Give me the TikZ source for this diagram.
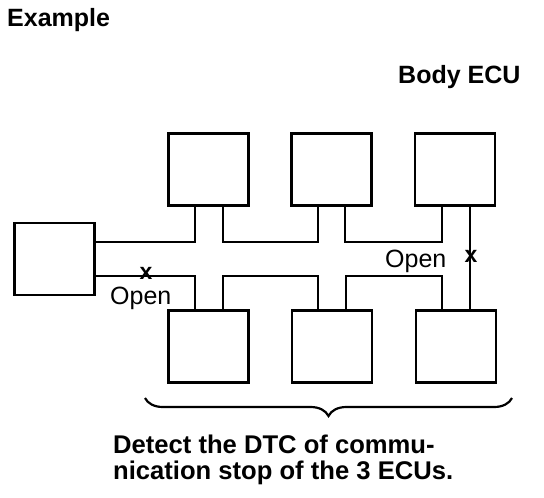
\documentclass[tikz,border=0pt]{standalone}
\usepackage{fontspec}
\setmainfont{Liberation Sans}
\usetikzlibrary{decorations.pathreplacing}

\tikzset{
  ecu/.style = {draw, line width = 2.5pt, minimum width = 80pt, minimum height = 72pt, inner sep = 0pt},
  wire/.style = {line width = 2.2pt},
  label/.style = {inner sep = 0pt, font = \fontsize{25}{27}\selectfont\bfseries},
  open/.style = {inner sep = 0pt, font = \fontsize{25}{27}\selectfont},
  cut/.style = {inner sep = 0pt, font = \fontsize{23}{23}\selectfont\bfseries}
}

\begin{document}
\begin{tikzpicture}[x = 1pt, y = -1pt]
        \useasboundingbox (0,0) rectangle (544,498);
        \node[ecu] (gw) at (54.5,259) {};
        \node[ecu] (top1) at (208.5,169.5) {};
        \node[ecu] (top2) at (331.5,169.5) {};
        \node[ecu] (top3) at (455,169.5) {};
        \node[ecu] (bot1) at (208.5,346.5) {};
        \node[ecu] (bot2) at (332,346.5) {};
        \node[ecu] (bot3) at (456,346.5) {};

        \draw[wire] (gw.east |- 0,242) -- (195,242) -- (top1.south -| 195,0);
        \draw[wire] (top1.south -| 223,0) -- (223,242) -- (318,242) -- (top2.south -| 318,0);
        \draw[wire] (top2.south -| 345,0) -- (345,242) -- (442,242) -- (top3.south -| 442,0);
        \draw[wire] (gw.east |- 0,276) -- (195,276) -- (bot1.north -| 195,0);
        \draw[wire] (bot1.north -| 223,0) -- (223,276) -- (318,276) -- (bot2.north -| 318,0);
        \draw[wire] (bot2.north -| 346,0) -- (346,276) -- (442,276) -- (bot3.north -| 442,0);
        \draw[wire] (top3.south -| 470,0) -- (bot3.north -| 470,0);

        \node[cut] (cutL) at (146,273) {x};
        \node[cut] (cutR) at (471,256) {x};
        \node[open, anchor = base west] (openL) at (110,304) {Open};
        \node[open, anchor = base west] (openR) at (385,267) {Open};

        \node[label, anchor = base west] (title) at (7,26) {Example};
        \node[label, anchor = base west] (body) at (398,83) {Body ECU};

        \draw[line width = 2.2pt, decorate, decoration = {brace, mirror, amplitude = 18pt}]
             (145,398) -- (512,398);
        \node[label, font = \fontsize{25.6}{26}\selectfont\bfseries, anchor = base west, align = left]
             (note) at (113,479)
             {Detect the DTC of commu-\\nication stop of the 3 ECUs.};
      \end{tikzpicture}
\end{document}
